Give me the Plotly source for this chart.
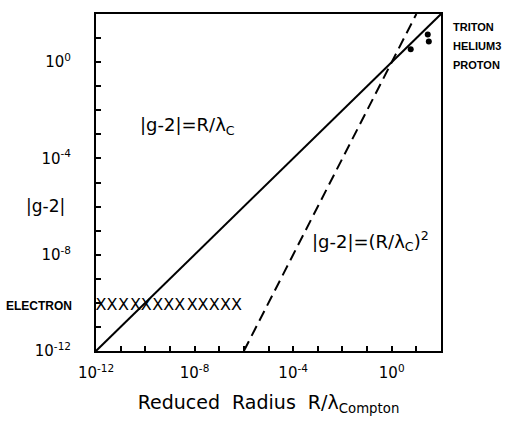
import plotly.graph_objects as go

# Decade range shared by both axes (log10 units)
decades = list(range(-12, 3))
labeled = [-12, -8, -4, 0]

# |g-2| = R / lambda_C  (solid line)
lin_x = [1e-12, 1e2]
lin_y = [1e-12, 1e2]

# |g-2| = (R / lambda_C)^2  (dashed line)
sq_x = [1e-6, 1e1]
sq_y = [1e-12, 1e2]

# Electron: limits along the radius axis at fixed |g-2|
electron_x = [1.6e-12, 4.5e-12, 1.3e-11, 4e-11, 1.1e-10, 3.2e-10, 9e-10,
              2.5e-9, 8e-9, 2.2e-8, 6.3e-8, 1.8e-7, 5e-7]
electron_y = [7.5e-11] * len(electron_x)

# Nucleons / light nuclei
nuc_x = [5.9, 29, 32]
nuc_y = [3.4, 14, 7.2]

fig = go.Figure()
fig.add_trace(go.Scatter(x=lin_x, y=lin_y, mode="lines",
                         line=dict(color="black", width=2)))
fig.add_trace(go.Scatter(x=sq_x, y=sq_y, mode="lines",
                         line=dict(color="black", width=2, dash="11px,6px")))
fig.add_trace(go.Scatter(x=electron_x, y=electron_y, mode="text", text=["X"] * len(electron_x),
                         textfont=dict(family="DejaVu Sans", size=16, color="black")))
fig.add_trace(go.Scatter(x=nuc_x, y=nuc_y, mode="markers",
                         marker=dict(color="black", size=6)))

tickvals = [10.0 ** d for d in decades]
ticktext = [f"10<sup>{d}</sup>" if d in labeled else "" for d in decades]

axis_common = dict(
    type="log", range=[-12, 2], tickvals=tickvals, ticktext=ticktext,
    ticks="inside", ticklen=5, tickwidth=1.5, tickcolor="black",
    showline=True, linecolor="black", linewidth=2, mirror=True,
    showgrid=False, zeroline=False,
    tickfont=dict(family="DejaVu Sans", size=15, color="black"),
)

fig.update_xaxes(**axis_common, ticklabelstandoff=7,
                 title=dict(text="Reduced  Radius  R/λ<sub>Compton</sub>",
                            font=dict(family="DejaVu Sans", size=19, color="black"),
                            standoff=15))
fig.update_yaxes(**axis_common, ticklabelstandoff=20)

annots = [
    dict(x=-8.3, y=-2.65, text="|g-2|=R/λ<sub>C</sub>", size=18),
    dict(x=-0.85, y=-7.45, text="|g-2|=(R/λ<sub>C</sub>)<sup>2</sup>", size=18),
]
for a in annots:
    fig.add_annotation(x=a["x"], y=a["y"], xref="x", yref="y", text=a["text"],
                       showarrow=False, xanchor="center", yanchor="middle",
                       font=dict(family="DejaVu Sans", size=a["size"], color="black"))

# Side labels outside the plot area
side = [
    dict(x=4, y=306, text="<b>ELECTRON</b>", size=12),
    dict(x=451, y=25, text="<b>TRITON</b>", size=11),
    dict(x=451, y=44, text="<b>HELIUM3</b>", size=11),
    dict(x=451, y=63, text="<b>PROTON</b>", size=11),
]
W, H = 512, 424
L, R, T, B = 96, 71, 12, 73
for s in side:
    fig.add_annotation(x=(s["x"] - L) / (W - L - R), y=1 - (s["y"] - T) / (H - T - B),
                       xref="paper", yref="paper", text=s["text"], showarrow=False,
                       xanchor="left", yanchor="middle",
                       font=dict(family="Liberation Sans Narrow, Liberation Sans",
                                 size=s["size"], color="black"))
fig.add_annotation(x=(45 - L) / (W - L - R), y=1 - (205 - T) / (H - T - B),
                   xref="paper", yref="paper", text="|g-2|", showarrow=False,
                   xanchor="center", yanchor="middle",
                   font=dict(family="DejaVu Sans", size=17, color="black"))

fig.update_layout(
    width=W, height=H, showlegend=False,
    margin=dict(l=L, r=R, t=T, b=B),
    paper_bgcolor="white", plot_bgcolor="white",
)
fig.write_html("out.html")
